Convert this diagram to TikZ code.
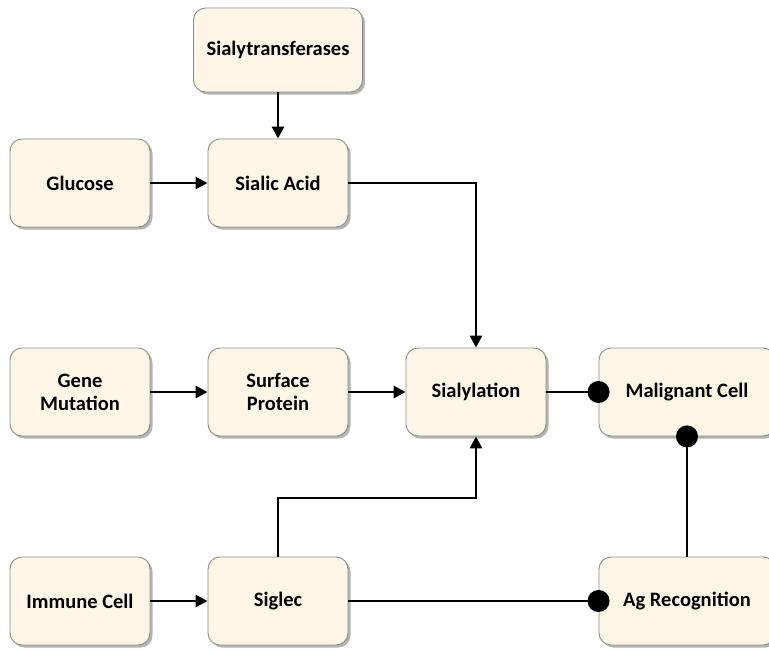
\documentclass[tikz,border=0pt]{standalone}
\usepackage{fontspec}
\setmainfont{Carlito}
\usetikzlibrary{arrows.meta,shadows}
\definecolor{cream}{HTML}{FDF6E7}
\definecolor{boxline}{HTML}{8C8C8C}
\tikzset{
  box/.style={rounded corners=12pt, draw=boxline, line width=0.9pt, fill=cream,
    minimum width=140pt, minimum height=88pt, align=center,
    font=\bfseries\fontsize{20.5}{23}\selectfont,
    drop shadow={shadow xshift=2.5pt, shadow yshift=-2.5pt, fill=black!50, opacity=0.6}},
  widebox/.style={box, minimum width=176pt},
  link/.style={line width=2.8pt},
  arrowto/.style={link, -{Triangle[length=12pt,width=12pt]}},
  dotto/.style={link, -{Circle[length=22pt]}, shorten >=-11pt},
}
\begin{document}
\begin{tikzpicture}[x=1pt,y=-1pt]
  \useasboundingbox (0,0) rectangle (769,649);
  % nodes, column by column
  \node[box, minimum width=169pt, minimum height=84pt] (st) at (278,50) {Sialytransferases};
  \node[box] (glu)  at (80,183)  {Glucose};
  \node[box] (sa)   at (278,183) {Sialic Acid};
  \node[box] (gene) at (80,392)  {Gene\\Mutation};
  \node[box] (surf) at (278,392) {Surface\\Protein};
  \node[box] (sial) at (476,392) {Sialylation};
  \node[widebox] (mal) at (687,392) {Malignant Cell};
  \node[box] (imm)  at (80,601)  {Immune Cell};
  \node[box] (sig)  at (278,601) {Siglec};
  \node[widebox] (ag) at (687,601) {Ag Recognition};
  \coordinate (bend) at (278,498);
  % connectors
  \draw[arrowto] (st) -- (sa);
  \draw[arrowto] (glu) -- (sa);
  \draw[arrowto] (sa.east) -| (sial.north);
  \draw[arrowto] (gene) -- (surf);
  \draw[arrowto] (surf) -- (sial);
  \draw[arrowto] (imm) -- (sig);
  \draw[arrowto] (sig.north) -- (bend) -| (sial.south);
  \draw[dotto] (sial) -- (mal);
  \draw[dotto] (sig) -- (ag);
  \draw[dotto] (ag) -- (mal);
\end{tikzpicture}
\end{document}
